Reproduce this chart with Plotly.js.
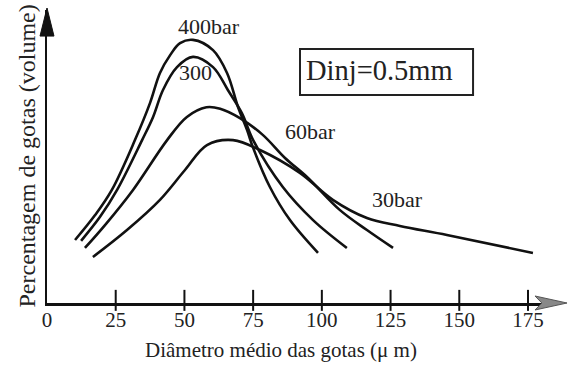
<!DOCTYPE html>
<html>
<head>
<meta charset="utf-8">
<script src="https://cdn.plot.ly/plotly-3.0.1.min.js"></script>
<style>html,body{margin:0;padding:0;background:#fff;} #chart{width:568px;height:365px;}</style>
</head>
<body>
<div id="chart"></div>
<script>
// Curve data (x: diameter in µm, y: relative volume %, arbitrary units)
const x400 = [10.2, 17.5, 23.6, 32.0, 37.5, 41.1, 44.8, 48.4, 53.1, 60.4, 65.5, 69.5, 72.8, 74.9, 81.1, 88.4, 98.6];
const y400 = [21.5, 30.0, 38.6, 55.6, 68.3, 78.5, 84.6, 88.7, 89.8, 86.3, 78.5, 66.9, 59.0, 53.2, 39.6, 28.3, 17.1];
const x300 = [12.4, 19.3, 25.5, 34.6, 38.6, 42.2, 47.3, 53.1, 60.4, 65.8, 70.9, 75.0, 85.8, 96.8, 109.1];
const y300 = [21.2, 29.4, 38.6, 55.6, 63.5, 72.7, 80.5, 84.0, 80.5, 72.7, 64.8, 55.6, 39.6, 28.3, 18.8];
const x60 = [13.8, 21.1, 31.3, 43.7, 50.9, 58.0, 63.0, 70.2, 78.6, 86.6, 94.6, 106.6, 116.4, 125.9];
const y60 = [18.8, 26.6, 38.6, 55.6, 63.5, 66.8, 66.3, 63.1, 57.3, 49.5, 43.0, 31.7, 24.9, 18.8];
const x30 = [16.7, 29.1, 41.1, 50.2, 58.2, 67.7, 77.5, 92.0, 104.0, 116.4, 128.4, 145.5, 176.8];
const y30 = [15.7, 24.9, 35.2, 45.4, 53.9, 55.6, 52.2, 44.4, 35.2, 29.0, 26.3, 23.2, 17.1];

const tickVals = [0, 25, 50, 75, 100, 125, 150, 175];
const tickText = ['0', '25', '50', '75', '100', '125', '150', '175'];
const tickMarks = [25, 50, 75, 100, 125, 150, 175];

const curveLabels = ['400bar', '300', '60bar', '30bar'];
const labelX = [58.9, 54.2, 95.7, 127.7];
const labelY = [94.2, 78.8, 58.4, 35.2];

const FONT = '"Liberation Serif", "Times New Roman", serif';
const lineStyle = {color: '#111', width: 2.6, shape: 'spline', smoothing: 1};

const traces = [
  {x: x400, y: y400, name: '400bar'},
  {x: x300, y: y300, name: '300bar'},
  {x: x60, y: y60, name: '60bar'},
  {x: x30, y: y30, name: '30bar'}
].map(t => Object.assign(t, {type: 'scatter', mode: 'lines', line: lineStyle, hoverinfo: 'skip'}));

traces.push({
  x: tickMarks, y: tickMarks.map(() => 0.9), type: 'scatter', mode: 'markers', cliponaxis: false,
  marker: {symbol: 'line-ns', size: 15, line: {color: '#111', width: 2}}, hoverinfo: 'skip'
});

const annotations = curveLabels.map((t, i) => ({
  x: labelX[i], y: labelY[i], xref: 'x', yref: 'y', text: t, showarrow: false,
  xanchor: 'center', yanchor: 'middle',
  font: {family: FONT, size: 22, color: '#222'}
}));
annotations.push({
  x: 121.1, y: 79.2, xref: 'x', yref: 'y', text: 'Dinj=0.5mm', showarrow: false,
  xanchor: 'center', yanchor: 'middle',
  font: {family: FONT, size: 28.5, color: '#222'}
});
annotations.push({
  x: 0.462, y: -0.160, xref: 'paper', yref: 'paper', text: 'Diâmetro médio das gotas (μ m)', showarrow: false,
  xanchor: 'center', yanchor: 'middle',
  font: {family: FONT, size: 21, color: '#222'}
});
annotations.push({
  x: -0.0415, y: 0.5, xref: 'paper', yref: 'paper', text: 'Percentagem de gotas (volume)', showarrow: false,
  xanchor: 'center', yanchor: 'middle',
  textangle: -90, font: {family: FONT, size: 24, color: '#222'}
});

const shapes = [
  {type: 'rect', xref: 'paper', yref: 'paper', x0: 0.5, x1: 0.842, y0: 0.71, y1: 0.867, line: {color: '#222', width: 2}},
  {type: 'path', xref: 'paper', yref: 'paper', path: 'M -0.0138,0.911 L 0,1.0068 L 0.0138,0.911 Z', fillcolor: '#111', line: {color: '#111', width: 1}},
  {type: 'path', xref: 'paper', yref: 'paper', path: 'M 0.9644,0.0239 L 1.0277,0 L 0.9644,-0.0239 L 0.978,0 Z', fillcolor: '#888', line: {color: '#555', width: 1}}
];

const layout = {
  width: 568, height: 365,
  margin: {l: 47, r: 15, t: 10, b: 62},
  paper_bgcolor: '#fff', plot_bgcolor: '#fff',
  showlegend: false,
  font: {family: FONT},
  xaxis: {
    range: [0, 184.1], showgrid: false, zeroline: false, showline: true, linecolor: '#111', linewidth: 2.5,
    tickmode: 'array', tickvals: tickVals, ticktext: tickText, ticks: '', ticklabelstandoff: -4,
    tickfont: {family: FONT, size: 21, color: '#222'}
  },
  yaxis: {
    range: [0, 100], showgrid: false, zeroline: false, showline: true, linecolor: '#111', linewidth: 2.5,
    showticklabels: false, ticks: ''
  },
  annotations: annotations,
  shapes: shapes
};

Plotly.newPlot('chart', traces, layout, {staticPlot: true, displayModeBar: false});
</script>
</body>
</html>
